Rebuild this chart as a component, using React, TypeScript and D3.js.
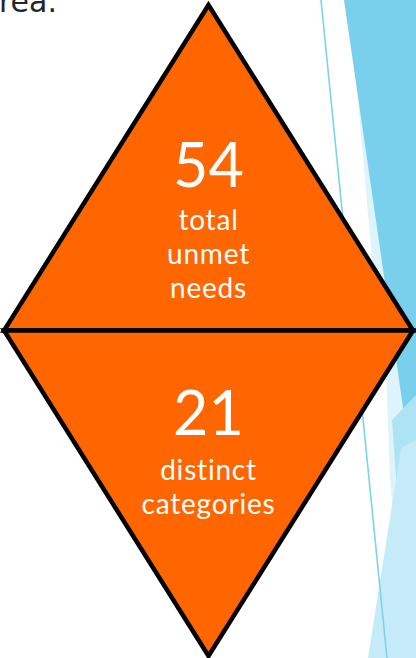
import React from 'react'
import * as d3 from 'd3'

// the two figures in the diamond
const values = [54, 21]
const captions = [['total', 'unmet', 'needs'], ['distinct', 'categories']]

// slide decoration on the right edge (Facet theme strips)
const strips = [
  { fill: '#dff3fb', pts: [[357, 88], [372, 260], [386, 370], [390, 480], [396, 540], [416, 540], [416, 88]] },
  { fill: '#79d0ed', pts: [[344, 0], [416, 0], [416, 497]] },
  { fill: '#ade3f5', pts: [[392, 420], [416, 395], [416, 658], [409, 658]] },
  { fill: '#c6ebf8', pts: [[368, 658], [401, 448], [416, 440], [416, 658]] },
]

const W = 416
const H = 658

const App = () => {
  const x = d3.scaleLinear().domain([-1, 1]).range([4, 413])
  const y = d3.scaleLinear().domain([0, 2]).range([5, 656])
  const line = d3.line<number[]>().x(d => x(d[0])).y(d => y(d[1])).curve(d3.curveLinearClosed)

  const triangles = [
    [[0, 0], [-1, 1], [1, 1]],
    [[-1, 1], [1, 1], [0, 2]],
  ]

  const poly = d3.line<number[]>().curve(d3.curveLinearClosed)

  // baselines for number and caption lines in each half
  const numberY = [187, 435]
  const captionY = [230, 480]
  const lineGap = 34

  return (
    <svg width={W} height={H} style={{ position: 'absolute', left: 0, top: 0, display: 'block' }}>
      <rect width={W} height={H} fill="#ffffff" />
      {strips.map((s, i) => (
        <path key={i} d={poly(s.pts as [number, number][]) || ''} fill={s.fill} />
      ))}
      <line x1={321} y1={0} x2={387} y2={658} stroke="#7fd1ee" strokeWidth={1.6} />

      <text x={57} y={12} textAnchor="end" fontFamily="DejaVu Sans" fontSize={30} fill="#262626">rea.</text>

      {triangles.map((t, i) => (
        <path key={i} d={line(t) || ''} fill="#ff6600" stroke="#000000" strokeWidth={4.5} strokeLinejoin="miter" />
      ))}

      {values.map((v, i) => (
        <g key={i} fill="#ffffff" fontFamily="Lato" textAnchor="middle">
          <text x={x(0)} y={numberY[i]} fontSize={61}>{v}</text>
          {captions[i].map((c, j) => (
            <text key={j} x={x(0)} y={captionY[i] + j * lineGap} fontSize={28} letterSpacing={0.8}>{c}</text>
          ))}
        </g>
      ))}
    </svg>
  )
}

export default App
